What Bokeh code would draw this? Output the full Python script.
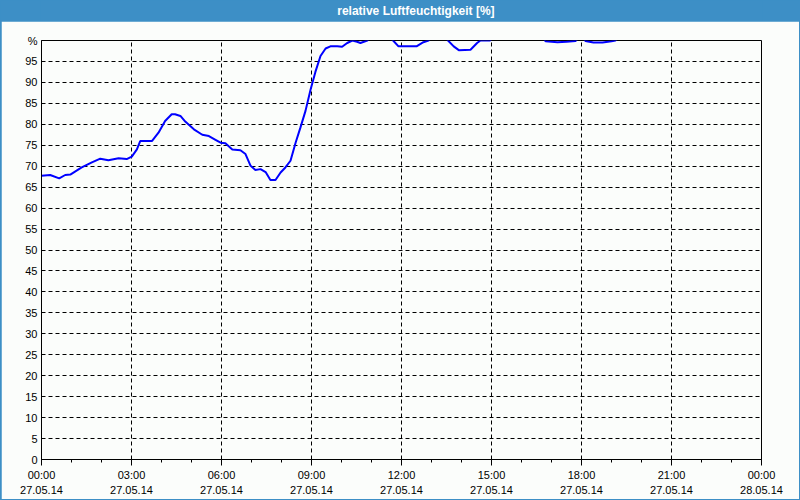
from bokeh.plotting import figure
from bokeh.models import FixedTicker, Range1d
from bokeh.layouts import column
from bokeh.core.properties import value
from bokeh.embed import file_html
from bokeh.resources import INLINE

# ---- data (hours since 27.05.14 00:00, relative humidity in %) ----
hours = [0.00, 0.29, 0.59, 0.79, 0.96, 1.34, 1.68, 1.96, 2.23, 2.57, 2.84, 3.01,
         3.18, 3.29, 3.68, 3.90, 4.12, 4.34, 4.45, 4.63, 4.80, 5.08, 5.36, 5.58,
         5.80, 5.97, 6.13, 6.36, 6.63, 6.80, 6.97, 7.13, 7.30, 7.47, 7.63, 7.80,
         7.97, 8.13, 8.30, 8.47, 8.63, 8.80, 8.97, 9.13, 9.30, 9.47, 9.63, 9.86,
         10.02, 10.19, 10.36, 10.52, 10.63, 10.86, 10.95, 11.30, 11.62, 11.72,
         11.90, 12.50, 12.73, 12.90, 13.00, 13.30, 13.48, 13.55, 13.74, 13.91,
         14.30, 14.52, 14.63, 14.95, 15.05, 16.00, 16.72, 16.80, 17.20, 17.50,
         17.80, 17.90, 18.05, 18.13, 18.40, 18.70, 19.00, 19.13, 19.25, 19.50]
humidity = [67.7, 67.9, 67.1, 67.9, 68.0, 69.7, 70.9, 71.8, 71.4, 71.9, 71.7, 72.3,
            74.0, 76.0, 76.0, 78.0, 80.8, 82.4, 82.4, 82.0, 80.6, 78.8, 77.5, 77.2,
            76.3, 75.6, 75.5, 74.0, 73.8, 72.9, 70.1, 69.1, 69.3, 68.6, 66.7, 66.7,
            68.5, 69.7, 71.3, 75.6, 79.2, 83.2, 88.3, 92.5, 96.3, 98.1, 98.6, 98.6,
            98.5, 99.4, 100.0, 99.7, 99.4, 100.0, 100.8, 101.0, 100.8, 100.0,
            98.6, 98.6, 99.6, 100.0, 100.8, 101.0, 100.8, 100.0, 98.6, 97.7,
            97.8, 99.4, 100.0, 100.0, 100.8, 101.0, 100.8, 99.8, 99.6, 99.7,
            99.9, 100.6, 100.6, 99.9, 99.5, 99.5, 99.8, 100.0, 100.8, 101.0]

title_text = "relative Luftfeuchtigkeit [%]"
x_tick_hours = [0, 3, 6, 9, 12, 15, 18, 21, 24]
x_tick_labels = ["00:00\n27.05.14", "03:00\n27.05.14", "06:00\n27.05.14",
                 "09:00\n27.05.14", "12:00\n27.05.14", "15:00\n27.05.14",
                 "18:00\n27.05.14", "21:00\n27.05.14", "00:00\n28.05.14"]
y_tick_values = list(range(0, 101, 5))
y_tick_labels = [str(v) for v in range(0, 100, 5)] + ["%"]

BLUE_BAR = "#3d8fc6"
BG = "#fbfdfb"
FONT = "Liberation Sans"

# ---- header bar ----
head = figure(width=800, height=21, x_range=Range1d(0, 800), y_range=Range1d(0, 21),
              output_backend="svg", toolbar_location=None,
              min_border=0, min_border_left=0, min_border_right=0,
              min_border_top=0, min_border_bottom=0)
head.axis.visible = False
head.grid.visible = False
head.outline_line_color = None
head.background_fill_color = BLUE_BAR
head.border_fill_color = BLUE_BAR
head.text(x=[416], y=[10.5], text=[title_text], text_color="white",
          text_font=value(FONT), text_font_style="bold", text_font_size="12px",
          text_align="center", text_baseline="middle")

# ---- main chart ----
p = figure(width=798, height=478, x_range=Range1d(0, 24), y_range=Range1d(0, 100),
           output_backend="svg", toolbar_location=None,
           min_border_left=40, min_border_right=38, min_border_top=19,
           min_border_bottom=38, margin=(0, 1, 1, 1))
p.background_fill_color = BG
p.border_fill_color = BG
p.outline_line_color = "black"
p.outline_line_width = 1

p.line(hours, humidity, line_color="#0000ff", line_width=2)

# x axis
p.xaxis.ticker = FixedTicker(ticks=x_tick_hours, minor_ticks=list(range(0, 25)))
p.xaxis.major_label_overrides = {h: lab for h, lab in zip(x_tick_hours, x_tick_labels)}
p.xaxis.major_tick_out = 6
p.xaxis.major_tick_in = 0
p.xaxis.minor_tick_out = 3
p.xaxis.minor_tick_in = 0
p.xaxis.major_label_standoff = 3
p.xaxis.major_label_text_font = FONT
p.xaxis.major_label_text_font_size = "11px"
p.xaxis.major_label_text_color = "black"
p.xaxis.major_label_text_line_height = 1.3
p.xaxis.axis_line_color = "black"
p.xaxis.major_tick_line_color = "black"
p.xaxis.minor_tick_line_color = "black"

# y axis
p.yaxis.ticker = FixedTicker(ticks=y_tick_values, minor_ticks=[])
p.yaxis.major_label_overrides = {v: lab for v, lab in zip(y_tick_values, y_tick_labels)}
p.yaxis.major_tick_out = 0
p.yaxis.major_tick_in = 0
p.yaxis.minor_tick_out = 0
p.yaxis.minor_tick_in = 0
p.yaxis.major_label_standoff = 4
p.yaxis.major_label_text_font = FONT
p.yaxis.major_label_text_font_size = "11px"
p.yaxis.major_label_text_color = "black"
p.yaxis.axis_line_color = "black"

# grid
for g in (p.xgrid, p.ygrid):
    g.grid_line_color = "black"
    g.grid_line_dash = "4 3"
    g.grid_line_width = 1
    g.grid_line_alpha = 1.0

layout = column(head, p, spacing=0, styles={"background-color": BLUE_BAR})

open("out.html", "w").write(file_html(layout, INLINE))
